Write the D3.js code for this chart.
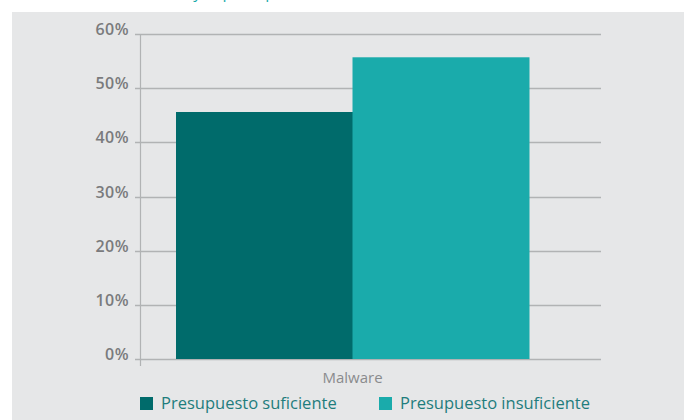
<!DOCTYPE html>
<html>
<head>
<meta charset="utf-8">
<script src="https://cdn.jsdelivr.net/npm/d3@7"></script>
<style>
  body { margin: 0; background: #fff; }
  svg { display: block; font-family: "Open Sans", sans-serif; }
</style>
</head>
<body>
<div id="chart"></div>
<script>
// datos
var categorias = ["Malware"];
var series = ["Presupuesto suficiente", "Presupuesto insuficiente"];
var suficiente = [45.6];
var insuficiente = [55.7];
var ticksY = [0, 10, 20, 30, 40, 50, 60];
var colores = ["#006b6b", "#1aabab"];

var W = 688, H = 420;
var margin = {top: 34, right: 87, bottom: 61, left: 140},
    width = W - margin.left - margin.right,
    height = H - margin.top - margin.bottom;

var svg = d3.select("#chart")
  .append("svg")
    .attr("width", W)
    .attr("height", H);

// fondo gris
svg.append("rect")
  .attr("x", 12).attr("y", 12)
  .attr("width", 672).attr("height", H - 12)
  .attr("fill", "#e6e7e8");

// titulo (cortado arriba, como en el original)
var pre = svg.append("text")
  .attr("font-size", 16)
  .attr("fill", "#1aabab")
  .text("Relación entre malware ");
var preW = pre.node().getComputedTextLength();
pre.remove();
svg.append("text")
  .attr("x", 189 - preW)
  .attr("y", -2)
  .attr("font-size", 16)
  .attr("fill", "#1aabab")
  .text("Relación entre malware y el presupuesto");

var g = svg.append("g")
  .attr("transform", "translate(" + margin.left + "," + margin.top + ")");

var y = d3.scaleLinear()
  .domain([0, 60])
  .range([height, 0]);

var x = d3.scaleBand()
  .domain(categorias)
  .range([0, 425])
  .paddingOuter(0.102);

var x1 = d3.scaleBand()
  .domain(series)
  .range([0, x.bandwidth()]);

// rejilla
g.append("g")
  .selectAll("line")
  .data(ticksY)
  .enter()
  .append("line")
    .attr("x1", -5)
    .attr("x2", width)
    .attr("y1", function(d) { return Math.round(y(d)) + 0.5; })
    .attr("y2", function(d) { return Math.round(y(d)) + 0.5; })
    .attr("stroke", "#b1b3b4")
    .attr("stroke-width", 1.5);

// eje Y
g.append("line")
  .attr("x1", 0.5).attr("x2", 0.5)
  .attr("y1", 0).attr("y2", height + 7)
  .attr("stroke", "#b1b3b4")
  .attr("stroke-width", 1.2);

g.append("g")
  .selectAll("text")
  .data(ticksY)
  .enter()
  .append("text")
    .attr("x", -11)
    .attr("y", function(d) { return y(d) + 1; })
    .attr("text-anchor", "end")
    .attr("font-size", 16)
    .attr("font-weight", 600)
    .attr("letter-spacing", "0.5px")
    .attr("fill", "#7a7b7d")
    .text(function(d) { return d + "%"; });

// barras
var datos = categorias.map(function(c, i) {
  return {cat: c, valores: [suficiente[i], insuficiente[i]]};
});

g.append("g")
  .selectAll("g")
  .data(datos)
  .enter()
  .append("g")
    .attr("transform", function(d) { return "translate(" + x(d.cat) + ",0)"; })
  .selectAll("rect")
  .data(function(d) { return d.valores.map(function(v, j) { return {s: series[j], v: v, j: j}; }); })
  .enter()
  .append("rect")
    .attr("x", function(d) { return x1(d.s); })
    .attr("width", x1.bandwidth() + 0.5)
    .attr("y", function(d) { return y(d.v); })
    .attr("height", function(d) { return height - y(d.v); })
    .attr("fill", function(d) { return colores[d.j]; });

// etiqueta categoria
g.append("g")
  .selectAll("text")
  .data(categorias)
  .enter()
  .append("text")
    .attr("x", function(d) { return x(d) + x.bandwidth() / 2; })
    .attr("y", height + 24)
    .attr("text-anchor", "middle")
    .attr("font-size", 15)
    .attr("fill", "#8a8b8d")
    .text(function(d) { return d; });

// leyenda
var legX = [0, 239];
var leg = g.append("g")
  .selectAll("g")
  .data(series)
  .enter()
  .append("g")
    .attr("transform", function(d, i) { return "translate(" + legX[i] + "," + (height + 38) + ")"; });

leg.append("rect")
  .attr("width", 13).attr("height", 13)
  .attr("fill", function(d, i) { return colores[i]; });

leg.append("text")
  .attr("x", 21)
  .attr("y", 12)
  .attr("font-size", 16.5)
  .attr("fill", "#1f7d7d")
  .text(function(d) { return d; });
</script>
</body>
</html>
